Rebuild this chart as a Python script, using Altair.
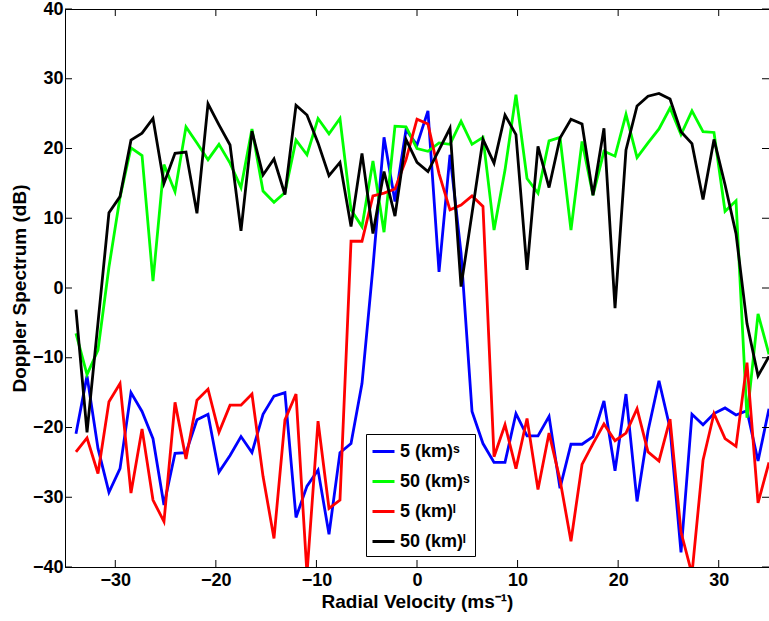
import altair as alt
import pandas as pd

# Radial velocity grid (m/s)
VELOCITY = [-33.91, -32.81, -31.72, -30.63, -29.53, -28.44, -27.34, -26.25,
            -25.16, -24.06, -22.97, -21.88, -20.78, -19.69, -18.59, -17.50,
            -16.41, -15.31, -14.22, -13.13, -12.03, -10.94, -9.84, -8.75,
            -7.66, -6.56, -5.47, -4.38, -3.28, -2.19, -1.09, 0.00,
            1.09, 2.19, 3.28, 4.38, 5.47, 6.56, 7.66, 8.75,
            9.84, 10.94, 12.03, 13.13, 14.22, 15.31, 16.41, 17.50,
            18.59, 19.69, 20.78, 21.88, 22.97, 24.06, 25.16, 26.25,
            27.34, 28.44, 29.53, 30.63, 31.72, 32.81, 33.91, 35.00]

SPEC_5KM_S = [-20.9, -12.6, -23.0, -29.3, -25.9, -15.0, -17.7, -21.6,
              -31.1, -23.7, -23.6, -18.9, -18.1, -26.4, -24.0, -21.3,
              -23.6, -18.1, -15.5, -15.0, -32.9, -28.4, -26.1, -35.3,
              -23.6, -22.3, -13.7, 3.0, 21.6, 12.4, 22.7, 20.5,
              25.4, 2.3, 19.1, 5.0, -17.7, -22.3, -25.0, -25.0,
              -18.0, -21.2, -21.2, -18.4, -28.7, -22.4, -22.4, -21.3,
              -16.2, -26.2, -15.2, -30.6, -20.5, -13.3, -20.1, -37.9,
              -18.1, -19.6, -18.0, -17.2, -18.2, -17.6, -24.8, -17.3]

SPEC_50KM_S = [-6.5, -12.4, -8.9, 3.0, 13.0, 20.1, 19.0, 1.0,
               17.7, 13.8, 23.1, 20.8, 18.4, 20.6, 17.9, 14.4,
               22.8, 13.9, 12.3, 13.7, 21.2, 19.1, 24.3, 22.1,
               24.3, 11.2, 8.8, 18.2, 8.0, 23.2, 23.1, 20.0,
               19.6, 20.8, 20.6, 23.9, 20.6, 21.6, 8.3, 16.9,
               27.7, 15.7, 13.6, 21.1, 21.6, 8.3, 21.0, 13.3,
               19.6, 18.9, 24.9, 18.7, 20.8, 22.8, 25.8, 22.0,
               25.4, 22.4, 22.3, 11.0, 12.5, -18.6, -3.7, -9.5]

SPEC_5KM_L = [-23.5, -21.5, -26.6, -16.3, -13.7, -29.4, -20.2, -30.4,
              -33.5, -16.4, -24.5, -16.1, -14.5, -20.7, -16.8, -16.8,
              -15.2, -27.0, -35.9, -18.9, -15.2, -41.0, -19.1, -31.6,
              -30.4, 6.7, 6.7, 13.2, 13.6, 14.2, 18.4, 24.2,
              23.5, 16.4, 11.2, 11.9, 13.2, 11.7, -24.2, -19.6,
              -25.9, -18.7, -28.9, -20.8, -27.5, -36.3, -25.3, -22.3,
              -19.5, -21.9, -20.8, -17.3, -23.5, -24.8, -18.8, -35.0,
              -41.0, -24.7, -18.0, -21.6, -22.7, -10.7, -30.8, -25.0]

SPEC_50KM_L = [-3.1, -20.7, -5.0, 10.8, 13.1, 21.2, 22.2, 24.3,
               15.0, 19.3, 19.5, 10.7, 26.4, 23.4, 20.5, 8.2,
               22.5, 16.2, 18.5, 13.4, 26.2, 24.8, 20.8, 16.1,
               18.0, 8.8, 19.3, 7.8, 16.7, 10.3, 21.3, 18.0,
               16.7, 19.8, 22.9, 0.2, 10.7, 21.3, 17.9, 24.8,
               22.0, 2.6, 20.3, 14.4, 21.5, 24.2, 23.5, 13.3,
               22.9, -2.9, 19.8, 26.1, 27.5, 27.9, 27.1, 22.4,
               20.7, 12.7, 21.3, 14.8, 7.8, -5.1, -12.6, -9.8]

SERIES = ["5 (km)\u02e2", "50 (km)\u02e2", "5 (km)\u02e1", "50 (km)\u02e1"]
COLORS = ["#0000ff", "#00ff00", "#ff0000", "#000000"]
XTICKS = [-30, -20, -10, 0, 10, 20, 30]
YTICKS = [-40, -30, -20, -10, 0, 10, 20, 30, 40]

FONT = "Liberation Sans"
W, H = 704, 558
TICK = 7

rows = []
for k, (name, vals) in enumerate(zip(SERIES, [SPEC_5KM_S, SPEC_50KM_S, SPEC_5KM_L, SPEC_50KM_L])):
    for v, y in zip(VELOCITY, vals):
        rows.append({"series": name, "order": k, "v": v, "y": y})
df = pd.DataFrame(rows)

xscale = alt.Scale(domain=[-35, 35], nice=False, zero=False)
yscale = alt.Scale(domain=[-40, 40], nice=False, zero=False)

xaxis = alt.Axis(values=XTICKS, ticks=False, grid=False, title="Radial Velocity (ms\u207b\u00b9)",
                 labelPadding=4, titlePadding=3)
yaxis = alt.Axis(values=YTICKS, ticks=False, grid=False, title="Doppler Spectrum (dB)",
                 labelPadding=2, titlePadding=3)

lines = alt.Chart(df).mark_line(strokeWidth=2.8, clip=True).encode(
    x=alt.X("v:Q", scale=xscale, axis=xaxis),
    y=alt.Y("y:Q", scale=yscale, axis=yaxis),
    color=alt.Color("series:N", scale=alt.Scale(domain=SERIES, range=COLORS),
                    legend=alt.Legend(title=None, orient="none", legendX=301, legendY=425,
                                      symbolType="stroke", symbolStrokeWidth=3, symbolSize=484,
                                      labelFont=FONT, labelFontSize=18, labelFontWeight="bold",
                                      labelColor="black", strokeColor="black", fillColor="white",
                                      padding=5, rowPadding=8, labelOffset=4, cornerRadius=0)),
    detail="order:O",
)

xt = pd.DataFrame({"v": XTICKS})
yt = pd.DataFrame({"y": YTICKS})
bottom_ticks = alt.Chart(xt).mark_rule(color="black", strokeWidth=1).encode(
    x=alt.X("v:Q", scale=xscale), y=alt.value(H), y2=alt.value(H - TICK))
top_ticks = alt.Chart(xt).mark_rule(color="black", strokeWidth=1).encode(
    x=alt.X("v:Q", scale=xscale), y=alt.value(0), y2=alt.value(TICK))
left_ticks = alt.Chart(yt).mark_rule(color="black", strokeWidth=1).encode(
    y=alt.Y("y:Q", scale=yscale), x=alt.value(0), x2=alt.value(TICK))
right_ticks = alt.Chart(yt).mark_rule(color="black", strokeWidth=1).encode(
    y=alt.Y("y:Q", scale=yscale), x=alt.value(W), x2=alt.value(W - TICK))

chart = alt.layer(lines, bottom_ticks, top_ticks, left_ticks, right_ticks).properties(
    width=W, height=H,
    autosize=alt.AutoSizeParams(type="none"),
    padding={"left": 65, "top": 9, "right": 0, "bottom": 54},
    background="white",
).configure_view(
    stroke="black", strokeWidth=1
).configure_axis(
    labelFont=FONT, labelFontSize=18, labelFontWeight="bold", labelColor="black",
    titleFont=FONT, titleFontSize=19, titleFontWeight="bold", titleColor="black",
    domainColor="black", domainWidth=1,
)

chart.save("out.html", embed_options={"renderer": "svg", "actions": False})
